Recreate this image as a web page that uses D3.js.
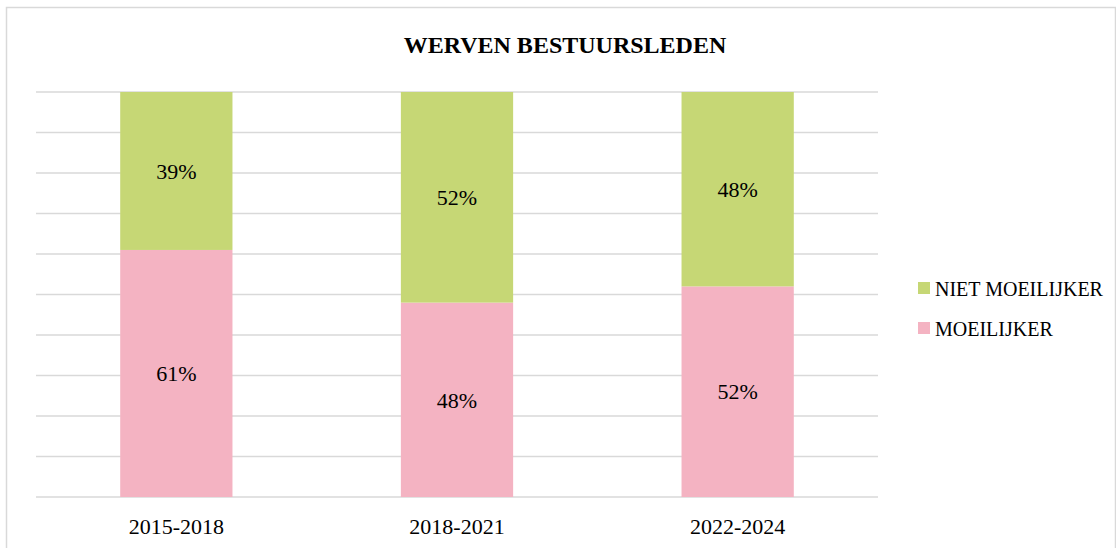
<!DOCTYPE html>
<html>
<head>
<meta charset="utf-8">
<script src="https://cdn.jsdelivr.net/npm/d3@7"></script>
<style>
  body { margin: 0; background: #fff; }
  text { font-family: "Liberation Serif", "DejaVu Serif", serif; fill: #000; }
</style>
</head>
<body>
<div id="chart"></div>
<script>
var periods = ["2015-2018", "2018-2021", "2022-2024"];
var moeilijker = [61, 48, 52];
var nietMoeilijker = [39, 52, 48];
var seriesNames = ["MOEILIJKER", "NIET MOEILIJKER"];
var colors = ["#f4b3c2", "#c6d775"];
var yTicks = [0, 10, 20, 30, 40, 50, 60, 70, 80, 90, 100];

var W = 1116, H = 548;
var margin = { top: 92, left: 36, right: 238, bottom: 51 };

var svg = d3.select("#chart")
    .append("svg")
    .attr("width", W)
    .attr("height", H);

// chart border
svg.append("rect")
    .attr("x", 6.5).attr("y", 7.5)
    .attr("width", 1109).attr("height", 560)
    .attr("fill", "none")
    .attr("stroke", "#d9d9d9")
    .attr("stroke-width", 1.5);

// title
svg.append("text")
    .attr("x", 565).attr("y", 53)
    .attr("text-anchor", "middle")
    .style("font-size", "24px")
    .style("font-weight", "bold")
    .text("WERVEN BESTUURSLEDEN");

var x = d3.scaleBand()
    .domain(periods)
    .range([margin.left, W - margin.right])
    .paddingInner(0.6)
    .paddingOuter(0.3);

var y = d3.scaleLinear()
    .domain([0, 100])
    .range([H - margin.bottom, margin.top]);

// gridlines
svg.append("g")
    .selectAll("line")
    .data(yTicks)
    .enter()
    .append("line")
    .attr("x1", margin.left)
    .attr("x2", W - margin.right)
    .attr("y1", function(d) { return y(d); })
    .attr("y2", function(d) { return y(d); })
    .attr("stroke", "#d9d9d9")
    .attr("stroke-width", 1.3);

// stack the data
var rows = periods.map(function(p, i) {
    return { period: p, "MOEILIJKER": moeilijker[i], "NIET MOEILIJKER": nietMoeilijker[i] };
});
var stacked = d3.stack().keys(seriesNames)(rows);

var layers = svg.selectAll(".layer")
    .data(stacked)
    .enter()
    .append("g")
    .attr("class", "layer")
    .attr("fill", function(d, i) { return colors[i]; });

layers.selectAll("rect")
    .data(function(d) { return d; })
    .enter()
    .append("rect")
    .attr("x", function(d) { return x(d.data.period); })
    .attr("width", x.bandwidth())
    .attr("y", function(d) { return y(d[1]); })
    .attr("height", function(d) { return y(d[0]) - y(d[1]); });

// value labels
layers.selectAll("text")
    .data(function(d) { return d; })
    .enter()
    .append("text")
    .attr("x", function(d) { return x(d.data.period) + x.bandwidth() / 2; })
    .attr("y", function(d) { return (y(d[0]) + y(d[1])) / 2; })
    .attr("dy", "0.35em")
    .attr("text-anchor", "middle")
    .style("font-size", "22px")
    .text(function(d) { return (d[1] - d[0]) + "%"; });

// x axis labels
var xAxis = svg.append("g")
    .attr("transform", "translate(0," + (H - margin.bottom) + ")")
    .call(d3.axisBottom(x).tickSize(0).tickPadding(21));
xAxis.select(".domain").remove();
xAxis.selectAll("text")
    .style("font-family", "Liberation Serif, DejaVu Serif, serif")
    .style("font-size", "22px")
    .attr("fill", "#000");

// legend (NIET MOEILIJKER on top)
var legendItems = [
    { name: seriesNames[1], color: colors[1] },
    { name: seriesNames[0], color: colors[0] }
];
var legend = svg.selectAll(".legend")
    .data(legendItems)
    .enter()
    .append("g")
    .attr("class", "legend")
    .attr("transform", function(d, i) { return "translate(918," + (282 + i * 40) + ")"; });

legend.append("rect")
    .attr("width", 12).attr("height", 12)
    .attr("fill", function(d) { return d.color; });

legend.append("text")
    .attr("x", 17).attr("y", 14)
    .style("font-size", "20px")
    .text(function(d) { return d.name; });
</script>
</body>
</html>
